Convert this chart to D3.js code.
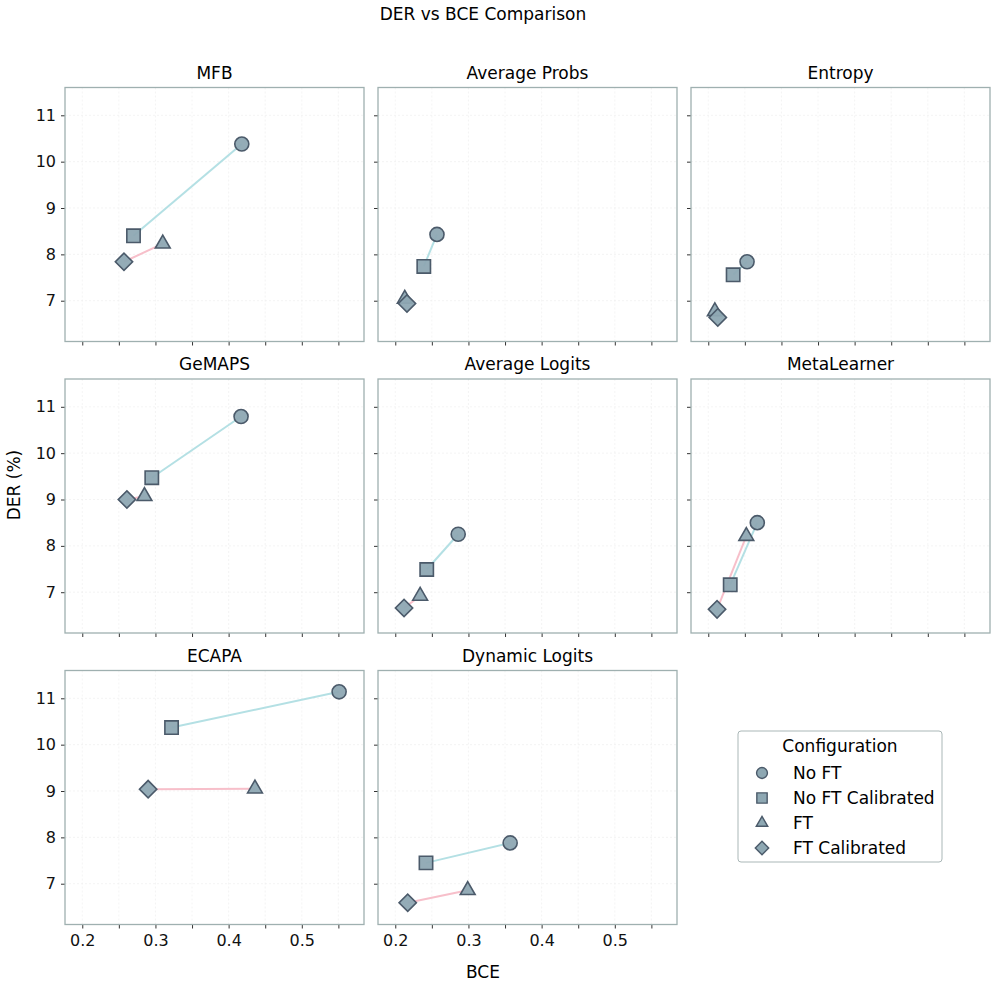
<!DOCTYPE html>
<html>
<head>
<meta charset="UTF-8">
<script src="https://d3js.org/d3.v7.min.js"></script>
<style>
  body { margin: 0; background: #fff; font-family: "DejaVu Sans", sans-serif; }
  .tick text { font-family: "DejaVu Sans", sans-serif; }
</style>
</head>
<body>
<svg width="997" height="990"></svg>
<script>
// panels in order, row by row
const methods = ["MFB", "Average Probs", "Entropy", "GeMAPS", "Average Logits", "MetaLearner", "ECAPA", "Dynamic Logits"];
const configs = ["No FT", "No FT Calibrated", "FT", "FT Calibrated"];
// BCE per method, in config order
const bce = [
  [0.418, 0.270, 0.310, 0.257],
  [0.257, 0.239, 0.213, 0.216],
  [0.253, 0.234, 0.209, 0.213],
  [0.417, 0.295, 0.285, 0.261],
  [0.286, 0.243, 0.234, 0.212],
  [0.267, 0.230, 0.252, 0.212],
  [0.551, 0.322, 0.436, 0.290],
  [0.357, 0.242, 0.299, 0.217]
];
// DER (%) per method, in config order
const der = [
  [10.38, 8.40, 8.23, 7.84],
  [8.43, 7.74, 7.04, 6.94],
  [7.84, 7.56, 6.77, 6.64],
  [10.79, 9.47, 9.07, 9.00],
  [8.25, 7.49, 6.92, 6.66],
  [8.50, 7.16, 8.21, 6.63],
  [11.14, 10.37, 9.05, 9.04],
  [7.88, 7.45, 6.86, 6.59]
];
const xTicks = [0.2, 0.25, 0.3, 0.35, 0.4, 0.45, 0.5, 0.55];
const yTicks = [7, 8, 9, 10, 11];

const svg = d3.select("svg");
const font = "DejaVu Sans, sans-serif";
const pw = 299, ph = 254;
const colX = [65, 378, 691];
const rowY = [87.5, 379, 670.5];
const fill = "#8ea8b3", stroke = "#4b5a6a";

const x = d3.scaleLinear().domain([0.1764, 0.585]).range([0, pw]);
const y = d3.scaleLinear().domain([6.12, 11.6]).range([ph, 0]);

// diamond drawn as a square turned 45 degrees, like matplotlib's "D"
const shapes = [d3.symbolCircle, d3.symbolSquare, d3.symbolTriangle, d3.symbolSquare];
const sizes = [155, 178, 95, 150];
const rot = [0, 0, 0, 45];

svg.append("text").attr("x", 483).attr("y", 20).attr("text-anchor", "middle")
  .style("font-family", font).style("font-size", "17px").text("DER vs BCE Comparison");

methods.forEach((m, i) => {
  const r = Math.floor(i / 3), c = i % 3;
  const g = svg.append("g").attr("transform", `translate(${colX[c]},${rowY[r]})`);

  // grid
  g.selectAll(".gx").data(xTicks).enter().append("line")
    .attr("x1", d => x(d)).attr("x2", d => x(d)).attr("y1", 0).attr("y2", ph)
    .attr("stroke", "#ececec").attr("stroke-width", 0.6).attr("stroke-dasharray", "2,2");
  g.selectAll(".gy").data(yTicks).enter().append("line")
    .attr("y1", d => y(d)).attr("y2", d => y(d)).attr("x1", 0).attr("x2", pw)
    .attr("stroke", "#ececec").attr("stroke-width", 0.6).attr("stroke-dasharray", "2,2");

  const showX = r === 2;
  const xa = g.append("g").attr("transform", `translate(0,${ph})`)
    .call(d3.axisBottom(x).tickValues(xTicks).tickSize(4).tickPadding(6)
      .tickFormat(d => showX && Math.abs(d * 10 - Math.round(d * 10)) < 1e-6 ? d3.format(".1f")(d) : ""));
  const ya = g.append("g")
    .call(d3.axisLeft(y).tickValues(yTicks).tickSize(4).tickPadding(5)
      .tickFormat(d => c === 0 ? d : ""));
  [xa, ya].forEach(a => {
    a.select(".domain").remove();
    a.selectAll(".tick line").attr("stroke", "#333");
    a.selectAll(".tick text").style("font-size", "16px").attr("fill", "#111");
  });

  g.append("rect").attr("width", pw).attr("height", ph)
    .attr("fill", "none").attr("stroke", "#9fb0b0").attr("stroke-width", 1.3);

  g.append("text").attr("x", pw / 2).attr("y", -9).attr("text-anchor", "middle")
    .style("font-family", font).style("font-size", "17px").text(m);

  // connecting lines
  g.append("line").attr("x1", x(bce[i][0])).attr("y1", y(der[i][0]))
    .attr("x2", x(bce[i][1])).attr("y2", y(der[i][1]))
    .attr("stroke", "#b4e0e4").attr("stroke-width", 2);
  g.append("line").attr("x1", x(bce[i][2])).attr("y1", y(der[i][2]))
    .attr("x2", x(bce[i][3])).attr("y2", y(der[i][3]))
    .attr("stroke", "#f7bfca").attr("stroke-width", 2);

  configs.forEach((cf, k) => {
    g.append("path")
      .attr("d", d3.symbol().type(shapes[k]).size(sizes[k])())
      .attr("transform", `translate(${x(bce[i][k])},${y(der[i][k])}) rotate(${rot[k]})`)
      .attr("fill", fill).attr("fill-opacity", 0.95)
      .attr("stroke", stroke).attr("stroke-width", 1.6);
  });
});

svg.append("text").attr("transform", "translate(20,485) rotate(-90)").attr("text-anchor", "middle")
  .style("font-family", font).style("font-size", "17px").text("DER (%)");
svg.append("text").attr("x", 483).attr("y", 978).attr("text-anchor", "middle")
  .style("font-family", font).style("font-size", "17px").text("BCE");

// legend
const lg = svg.append("g").attr("transform", "translate(738,731)");
lg.append("rect").attr("width", 204).attr("height", 131).attr("rx", 3)
  .attr("fill", "#fff").attr("stroke", "#aab7b7").attr("stroke-width", 1);
lg.append("text").attr("x", 102).attr("y", 21).attr("text-anchor", "middle")
  .style("font-family", font).style("font-size", "17px").text("Configuration");
configs.forEach((cf, k) => {
  const yy = 42 + k * 25;
  lg.append("path").attr("d", d3.symbol().type(shapes[k]).size(sizes[k] * 0.6)())
    .attr("transform", `translate(24,${yy}) rotate(${rot[k]})`)
    .attr("fill", fill).attr("stroke", stroke).attr("stroke-width", 1.4);
  lg.append("text").attr("x", 55).attr("y", yy + 6)
    .style("font-family", font).style("font-size", "17px").text(cf);
});
</script>
</body>
</html>
